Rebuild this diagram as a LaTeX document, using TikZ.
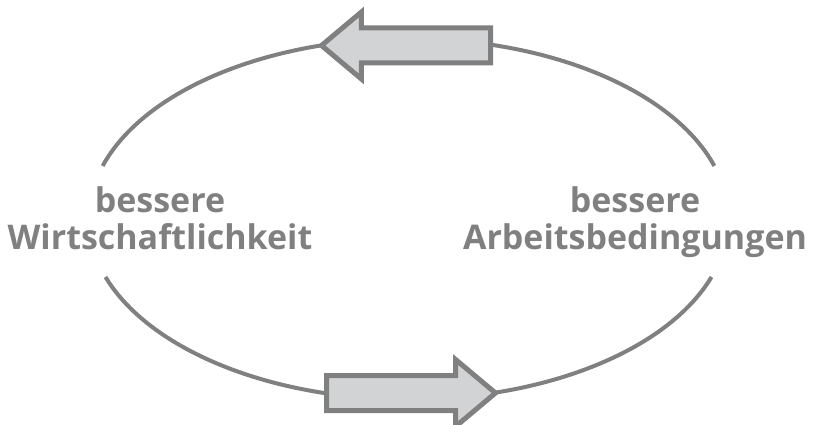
\documentclass[tikz,border=0pt]{standalone}
\usepackage{fontspec}
\setmainfont{Open Sans}
\usetikzlibrary{shapes.arrows}
\definecolor{cyclegray}{RGB}{128,128,128}
\definecolor{arrowfill}{RGB}{209,211,212}

\begin{document}
\begin{tikzpicture}[x=1pt, y=-1pt,
      cycletext/.style={text=cyclegray, font=\fontsize{34}{37}\selectfont\bfseries, align=center, inner sep=0pt},
      ring/.style={draw=cyclegray, line width=4pt},
      blockarrow/.style={single arrow, draw=cyclegray, fill=arrowfill, line width=5pt,
        inner sep=0pt, inner ysep=15pt, minimum height=169pt,
        single arrow head extend=16pt, single arrow tip angle=80}]
      \useasboundingbox (0,0) rectangle (821,425);
      \coordinate (hub) at (408.5,219);

      \node (economy) [cycletext, anchor=base] at (160,249) {bessere\\Wirtschaftlichkeit};
      \node (work) [cycletext, anchor=base] at (635,249) {bessere\\Arbeitsbedingungen};

      \draw[ring] (hub) ++(197.1:320 and 180.4) arc[start angle=197.1, end angle=342.9, x radius=320, y radius=180.4];
      \draw[ring] (hub) ++(18.75:320 and 180.4) arc[start angle=18.75, end angle=161.25, x radius=320, y radius=180.4];

      \node (toarrow) [blockarrow, shape border rotate=180, anchor=tail] at (493,45.5) {};
      \node (fromarrow) [blockarrow, anchor=tail] at (324,393) {};
    \end{tikzpicture}
\end{document}
